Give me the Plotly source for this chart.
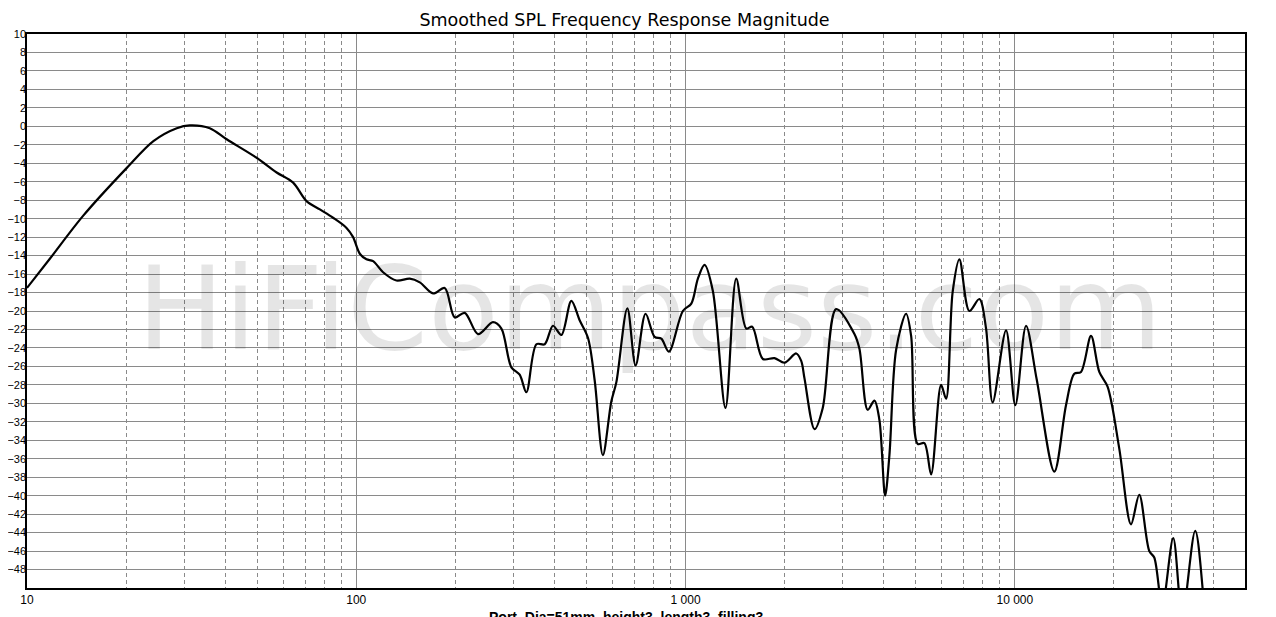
import plotly.graph_objects as go

# frequency response (Hz, dB)
freq_hz = [10, 11.7, 14.8, 20.1, 24.2, 28.5, 31.2, 35.9, 40.4, 49.8,
           57.3, 64.3, 70.6, 77.5, 85.0, 93.4, 97.8, 102.5, 107.4, 112.5,
           120.6, 132.4, 145.4, 155.9, 171.1, 185.6, 199.1, 213.5, 234.3, 260.1,
           275.9, 295.8, 313.5, 328.5, 352.4, 373.4, 395.7, 419.6, 449.9, 476.8,
           505.3, 529.6, 561.0, 595.0, 616.4, 665.6, 705.3, 756.0, 805.3, 844.0,
           889.9, 981.3, 1041, 1090, 1142, 1210, 1322, 1425, 1529, 1594, 1717,
           1862, 1998, 2168, 2245, 2297, 2464, 2610, 2867, 3257, 3373,
           3574, 3746, 3879, 4037, 4160, 4360, 4675, 4842, 5070, 5312, 5567,
           5970, 6183, 6475, 6786, 7276, 7803, 8176, 8562, 9403, 10035,
           10814, 11650, 13183, 14302, 15155, 15880, 17034, 18049, 19125, 20756,
           22527, 23871, 25600, 26510, 28030, 30270, 32240, 35300, 37860, 40000]
spl_db = [-17.5, -14.4, -9.7, -4.5, -1.6, -0.2, 0.1, -0.2, -1.4, -3.4,
          -5.0, -6.1, -8.1, -9.0, -9.9, -11.0, -12.0, -13.8, -14.4, -14.6,
          -15.8, -16.7, -16.5, -16.9, -18.1, -17.5, -20.7, -20.2, -22.5, -21.2,
          -21.9, -26.1, -26.9, -28.8, -23.6, -23.6, -21.6, -22.6, -18.9, -21.0,
          -22.9, -27.5, -35.6, -29.8, -27.7, -19.7, -25.9, -20.3, -22.8, -23.0,
          -24.4, -20.0, -19.2, -16.5, -15.0, -17.8, -30.5, -16.5, -21.9, -21.7, -25.2,
          -25.1, -25.6, -24.6, -25.4, -27.3, -32.8, -30.5, -19.8, -22.5, -24.1,
          -30.7, -29.7, -31.8, -40.0, -35.6, -24.2, -20.3, -22.7, -34.4, -34.3, -37.7,
          -28.0, -29.5, -17.9, -14.4, -20.0, -18.7, -21.9, -29.9, -22.1, -30.2,
          -21.6, -27.4, -37.4, -30.2, -26.8, -26.6, -22.7, -26.6, -28.2, -34.9,
          -43.1, -39.9, -46.0, -46.7, -52.0, -44.6, -53.0, -43.8, -53.0, -60.0]

x_tick_vals = [10, 100, 1000, 10000]
x_tick_text = ["10", "100", "1 000", "10 000"]
y_tick_vals = list(range(-48, 11, 2))

minor_vals = [m * 10 ** k for k in range(1, 5) for m in range(2, 10) if m * 10 ** k < 50000]

grid = "#8a8a8a"

fig = go.Figure(go.Scatter(
    x=freq_hz, y=spl_db, mode="lines",
    line=dict(color="black", width=2.2, shape="spline", smoothing=0.9),
    showlegend=False, hoverinfo="skip"
))

# the page body adds 8px on the top and left, so the figure is 8px smaller
fig.update_layout(
    width=1268, height=609,
    margin=dict(l=19, r=31, t=26, b=29),
    paper_bgcolor="white", plot_bgcolor="white",
    title=dict(text="Smoothed SPL Frequency Response Magnitude",
               font=dict(family="DejaVu Sans", size=17.5, color="black"),
               x=0.4862, xanchor="center", y=0.981, yanchor="middle"),
    xaxis=dict(type="log", range=[1, 4.69897], autorange=False,
               tickvals=x_tick_vals, ticktext=x_tick_text,
               showgrid=True, gridcolor=grid, gridwidth=1,
               minor=dict(tickvals=minor_vals, showgrid=True, gridcolor=grid,
                          griddash="4px,3px", gridwidth=1),
               showline=True, linecolor="black", linewidth=1.5, mirror=True,
               ticks="", zeroline=False, automargin=False,
               tickfont=dict(family="Liberation Sans", size=12, color="black")),
    yaxis=dict(range=[-50, 10], autorange=False,
               tickvals=y_tick_vals, showgrid=True, gridcolor=grid, gridwidth=1,
               showline=True, linecolor="black", linewidth=1.5, mirror=True,
               ticks="", zeroline=False, automargin=False, ticklabelstandoff=-3,
               tickfont=dict(family="Liberation Sans", size=11, color="black")),
    annotations=[
        dict(text="HiFiCompass.com", xref="paper", yref="paper",
             x=0.5107, y=0.505, xanchor="center", yanchor="middle", showarrow=False,
             font=dict(family="DejaVu Sans", size=116, color="rgba(0,0,0,0.1)")),
        dict(text="<b>Port_Dia=51mm, height3, length3, filling3</b>",
             xref="paper", yref="paper", x=0.4918, y=-0.034,
             xanchor="center", yanchor="top", showarrow=False,
             font=dict(family="Liberation Sans", size=14, color="black")),
    ],
)

fig.write_html("out.html")
